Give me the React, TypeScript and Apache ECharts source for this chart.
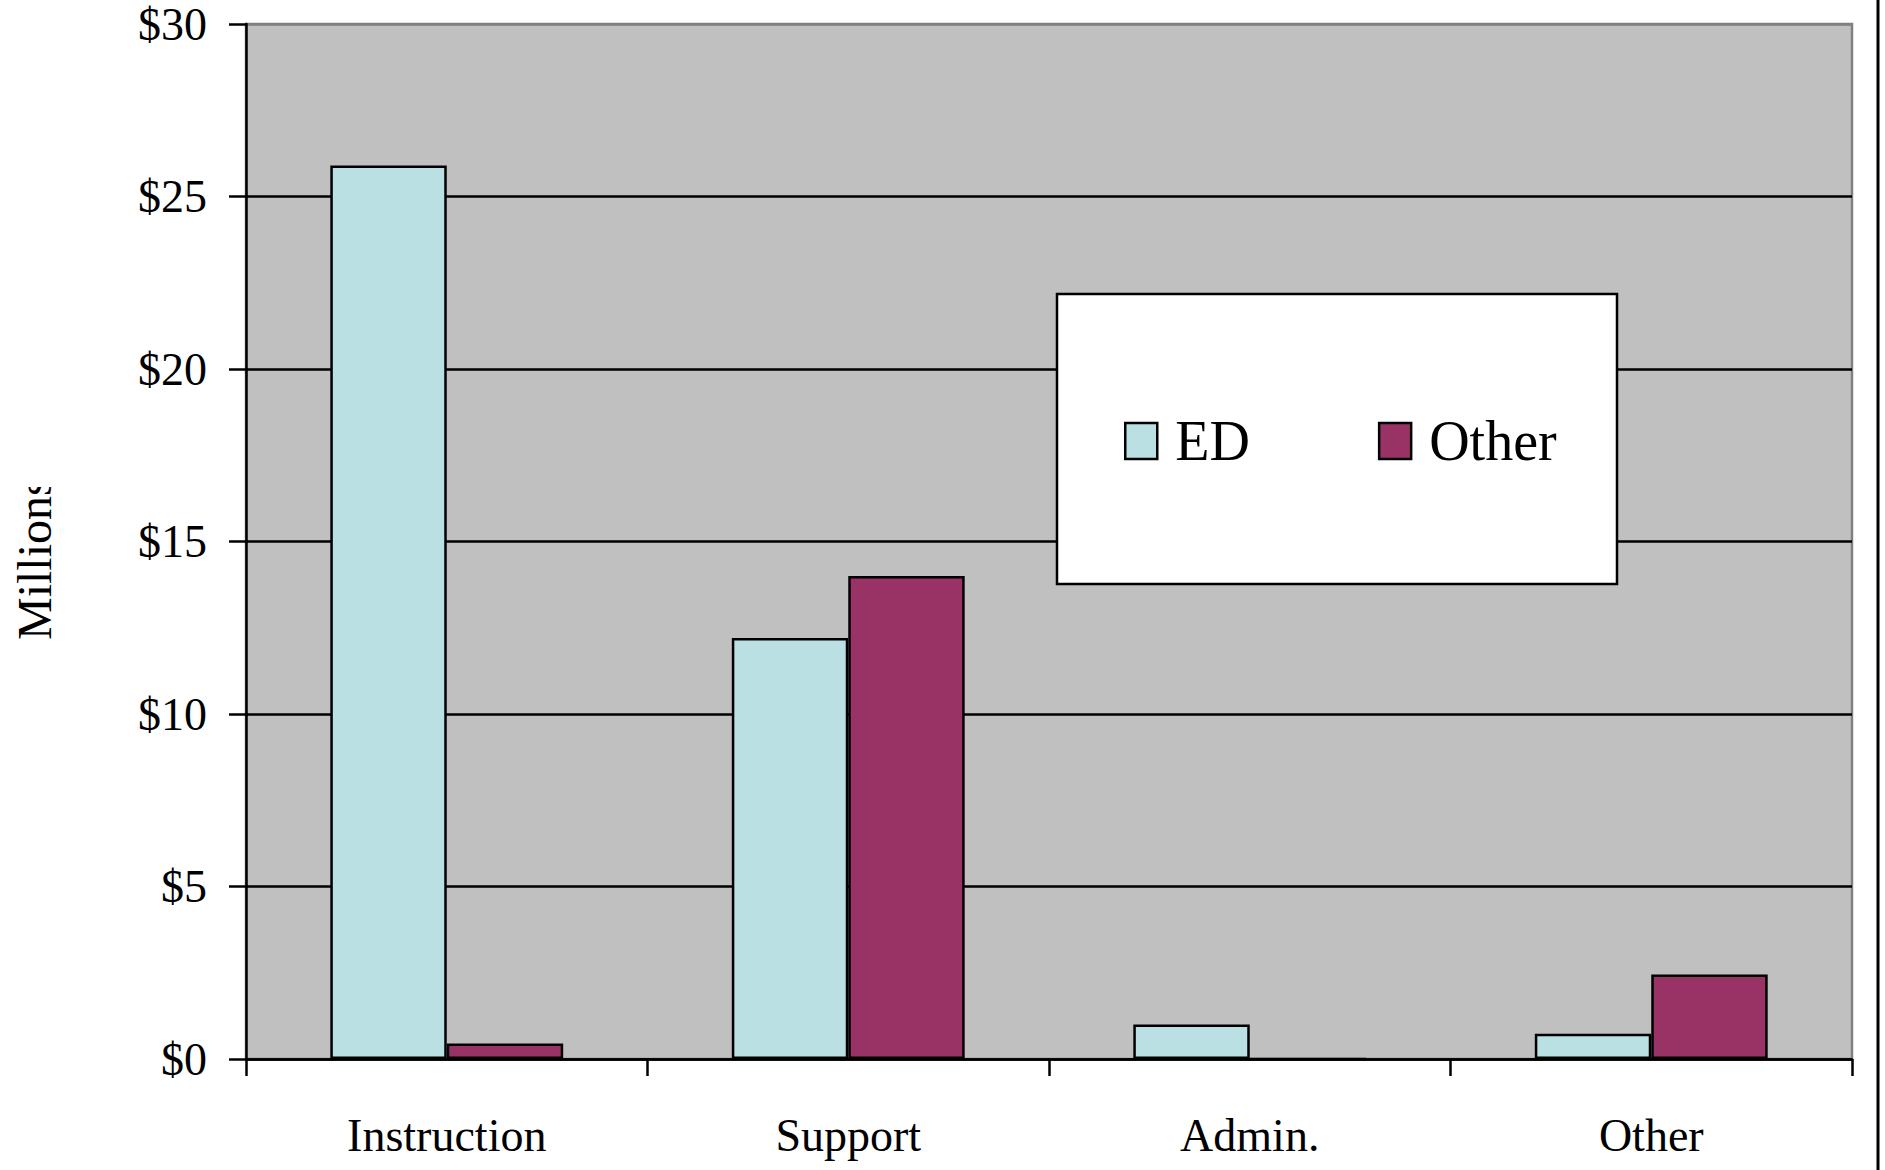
import React, { useEffect, useRef } from "react";
import * as echarts from "echarts";

// Spending by function, in millions of dollars
const categories = ["Instruction", "Support", "Admin.", "Other"];
const edValues = [25.9, 12.2, 1.0, 0.73];
const otherValues = [0.45, 14.0, 0, 2.45];
const yTickValues = [0, 5, 10, 15, 20, 25, 30];
const seriesNames = ["ED", "Other"];

const FONT = "'Liberation Serif', 'Times New Roman', serif";
const ED_COLOR = "#BAE0E3";
const OTHER_COLOR = "#993366";

export default function App() {
  const ref = useRef<HTMLDivElement>(null);

  useEffect(() => {
    if (!ref.current) return;
    const chart = echarts.init(ref.current, null, { renderer: "svg" });

    const yMax = yTickValues[yTickValues.length - 1];
    const yInterval = yTickValues[1] - yTickValues[0];

    chart.setOption({
      animation: false,
      backgroundColor: "#ffffff",
      grid: {
        left: 246,
        right: 33,
        top: 24,
        bottom: 111,
        show: true,
        backgroundColor: "#C0C0C0",
        borderColor: "#808080",
        borderWidth: 2.5,
      },
      legend: {
        data: seriesNames,
        left: 1119,
        top: 408,
        icon: "rect",
        itemWidth: 32,
        itemHeight: 36,
        itemGap: 128,
        selectedMode: false,
        itemStyle: { borderColor: "#000", borderWidth: 2.5 },
        textStyle: {
          fontFamily: FONT,
          fontSize: 56,
          color: "#000",
          padding: [0, 0, 0, 13],
        },
        z: 6,
      },
      xAxis: {
        type: "category",
        data: categories,
        boundaryGap: true,
        axisLine: { show: true, lineStyle: { color: "#000", width: 2.5 } },
        axisTick: { show: true, length: 17, lineStyle: { color: "#000", width: 2.5 } },
        axisLabel: {
          fontFamily: FONT,
          fontSize: 46,
          color: "#000",
          margin: 53,
        },
        splitLine: { show: false },
      },
      yAxis: {
        type: "value",
        min: 0,
        max: yMax,
        interval: yInterval,
        axisLine: { show: true, lineStyle: { color: "#000", width: 2.5 } },
        axisTick: { show: true, length: 17, lineStyle: { color: "#000", width: 2.5 } },
        axisLabel: {
          fontFamily: FONT,
          fontSize: 46,
          lineHeight: 40,
          verticalAlign: "middle",
          padding: [6, 0, 0, 0],
          color: "#000",
          margin: 39,
          formatter: (v: number) => `$${v}`,
        },
        splitLine: {
          show: true,
          lineStyle: {
            color: ["#000", "#000", "#000", "#000", "#000", "#000", "#808080"],
            width: 2.5,
          },
        },
      },
      series: [
        {
          name: seriesNames[0],
          type: "bar",
          data: edValues,
          barGap: "0%",
          barCategoryGap: "42%",
          itemStyle: { color: ED_COLOR, borderColor: "#000", borderWidth: 2.5 },
        },
        {
          name: seriesNames[1],
          type: "bar",
          data: otherValues,
          barGap: "0%",
          barCategoryGap: "42%",
          itemStyle: { color: OTHER_COLOR, borderColor: "#000", borderWidth: 2.5 },
        },
      ],
      graphic: [
        {
          type: "rect",
          z: 5,
          shape: { x: 1057, y: 294, width: 560, height: 290 },
          style: { fill: "#ffffff", stroke: "#000", lineWidth: 2.5 },
        },
        {
          type: "text",
          x: 34,
          y: 640,
          rotation: Math.PI / 2,
          style: {
            text: "Millions",
            fontFamily: FONT,
            fontSize: 48,
            fill: "#000",
            align: "left",
            verticalAlign: "middle",
          },
        },
        {
          type: "rect",
          z: 10,
          shape: { x: 0, y: 440, width: 70, height: 47 },
          style: { fill: "#ffffff" },
        },
        {
          type: "line",
          shape: { x1: 1878, y1: 0, x2: 1878, y2: 1170 },
          style: { stroke: "#000", lineWidth: 3 },
        },
      ],
    });

    return () => chart.dispose();
  }, []);

  return (
    <div
      ref={ref}
      style={{ position: "absolute", left: 0, top: 0, width: 1885, height: 1170 }}
    />
  );
}
